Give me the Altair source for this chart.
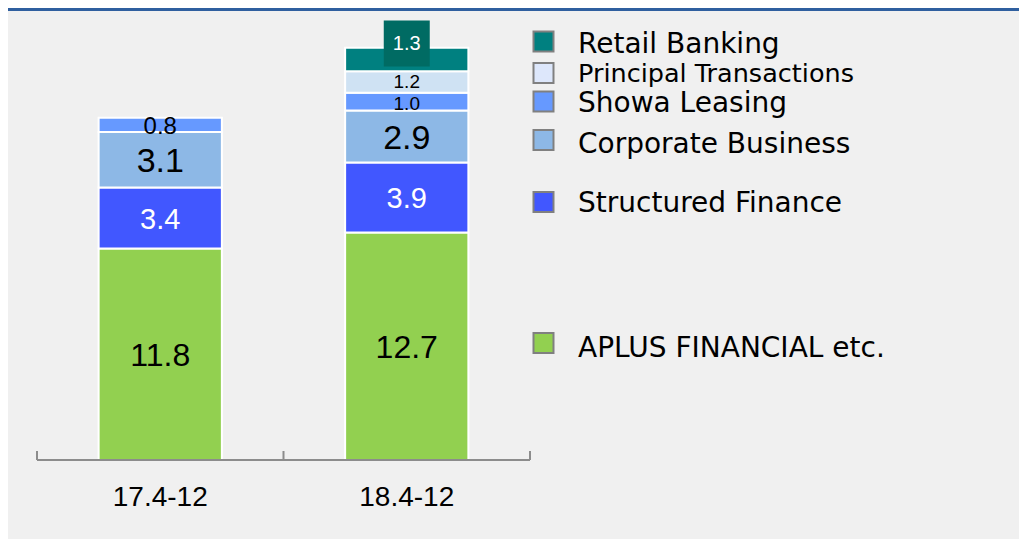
import altair as alt
import pandas as pd

# ---------------- data ----------------
periods = ["17.4-12", "18.4-12"]
segments = ["APLUS FINANCIAL etc.", "Structured Finance", "Corporate Business",
            "Showa Leasing", "Principal Transactions", "Retail Banking"]
values_17 = [11.8, 3.4, 3.1, 0.8, None, None]
values_18 = [12.7, 3.9, 2.9, 1.0, 1.2, 1.3]
legend_order = ["Retail Banking", "Principal Transactions", "Showa Leasing",
                "Corporate Business", "Structured Finance", "APLUS FINANCIAL etc."]

# ---------------- styles / layout ----------------
bar_colors = ["#92D050", "#4157FF", "#8DB8E6", "#6699FF", "#CFE2F3", "#008080"]
legend_colors = ["#92D050", "#4157FF", "#8DB8E6", "#6699FF", "#DDE7FB", "#008080"]
W, H = 493, 448
PAD_L, PAD_T = 29, 4
TOTAL_W, TOTAL_H = 1011, 531
legend_square_y = [29.5, 61, 89.5, 128, 190, 331]
legend_text_y = [40.7, 70, 100, 141, 200, 345]

rows = []
for p, vals in zip(periods, [values_17, values_18]):
    for i, (s, v) in enumerate(zip(segments, vals)):
        if v is None:
            continue
        rows.append({"cat": p, "seg": s, "value": v, "order": i, "label": f"{v:.1f}"})
df = pd.DataFrame(rows)

ldf = pd.DataFrame({"seg": legend_order, "sy": legend_square_y, "ty": legend_text_y})

yscale = alt.Scale(domain=[0, 25], nice=False, zero=True)
xscale = alt.Scale(domain=periods, paddingInner=0.5, paddingOuter=0.25)
xaxis = alt.Axis(title=None, domain=False, ticks=False, labelAngle=0,
                 labelFont="Liberation Sans", labelFontSize=28, labelColor="#000000",
                 labelPadding=23, grid=False)
xenc = alt.X("cat:N", scale=xscale, axis=xaxis)

base = (alt.Chart(df)
        .transform_stack(stack="value", groupby=["cat"],
                         sort=[alt.SortField("order", "ascending")], as_=["y0", "y1"])
        .transform_calculate(mid="(datum.y0 + datum.y1) / 2"))

bars = base.mark_bar(stroke="white", strokeWidth=2).encode(
    x=xenc,
    y=alt.Y("y0:Q", scale=yscale, axis=None),
    y2="y1:Q",
    color=alt.Color("seg:N", scale=alt.Scale(domain=segments, range=bar_colors), legend=None),
)


def label_layer(expr, size, color, dy=2):
    return base.transform_filter(expr).mark_text(
        font="Liberation Sans", fontSize=size, color=color, baseline="middle", dy=dy
    ).encode(x=xenc, y=alt.Y("mid:Q", scale=yscale, axis=None), text="label:N")


labels = [
    label_layer("datum.seg == 'APLUS FINANCIAL etc.'", 32, "#000000"),
    label_layer("datum.seg == 'Structured Finance'", 29, "#FFFFFF"),
    label_layer("datum.seg == 'Corporate Business'", 34, "#000000"),
    label_layer("datum.seg == 'Showa Leasing' && datum.cat == '17.4-12'", 24, "#000000"),
    label_layer("datum.seg == 'Showa Leasing' && datum.cat == '18.4-12'", 19, "#000000", dy=2),
    label_layer("datum.seg == 'Principal Transactions'", 19, "#000000", dy=0),
]

retail_box = base.transform_filter("datum.seg == 'Retail Banking'").mark_square(
    size=46 * 46, color="#006B63", opacity=1, filled=True, yOffset=-16
).encode(x=xenc, y=alt.Y("mid:Q", scale=yscale, axis=None))
retail_label = label_layer("datum.seg == 'Retail Banking'", 20, "#FFFFFF", dy=-15)

one = alt.Chart(pd.DataFrame({"a": [0]}))
domain_line = one.mark_rule(color="#8c8c8c", strokeWidth=2).encode(
    x=alt.value(0), x2=alt.value(W), y=alt.value(H))
tick_layers = [
    one.mark_rule(color="#8c8c8c", strokeWidth=2).encode(
        x=alt.value(k * W / 2), y=alt.value(H - 9), y2=alt.value(H))
    for k in range(3)
]
top_line = one.mark_rule(color="#2F5F9F", strokeWidth=3).encode(
    x=alt.value(-PAD_L), x2=alt.value(TOTAL_W - PAD_L), y=alt.value(-PAD_T + 1.5))

leg_sq = alt.Chart(ldf).mark_square(size=400, stroke="#808080", strokeWidth=2,
                                     opacity=1, filled=True).encode(
    x=alt.value(506.5),
    y=alt.Y("sy:Q", scale=None),
    fill=alt.Fill("seg:N", scale=alt.Scale(domain=segments, range=legend_colors), legend=None),
)
leg_txt_main = alt.Chart(ldf).transform_filter("datum.seg != 'Principal Transactions'").mark_text(
    font="DejaVu Sans", fontSize=28, color="#000000", align="left", baseline="alphabetic"
).encode(x=alt.value(541), y=alt.Y("ty:Q", scale=None), text="seg:N")
leg_txt_small = alt.Chart(ldf).transform_filter("datum.seg == 'Principal Transactions'").mark_text(
    font="DejaVu Sans", fontSize=25.5, color="#000000", align="left", baseline="alphabetic"
).encode(x=alt.value(541), y=alt.Y("ty:Q", scale=None), text="seg:N")

chart = alt.layer(
    top_line, bars, *labels, retail_box, retail_label, domain_line, *tick_layers,
    leg_sq, leg_txt_main, leg_txt_small
).properties(
    width=W, height=H,
    padding={"left": PAD_L, "top": PAD_T, "right": TOTAL_W - PAD_L - W, "bottom": TOTAL_H - PAD_T - H},
    autosize=alt.AutoSizeParams(type="none"),
    background="#F0F0F0",
).configure_view(stroke=None)

chart.save("out.html", embed_options={"renderer": "svg", "actions": False})
